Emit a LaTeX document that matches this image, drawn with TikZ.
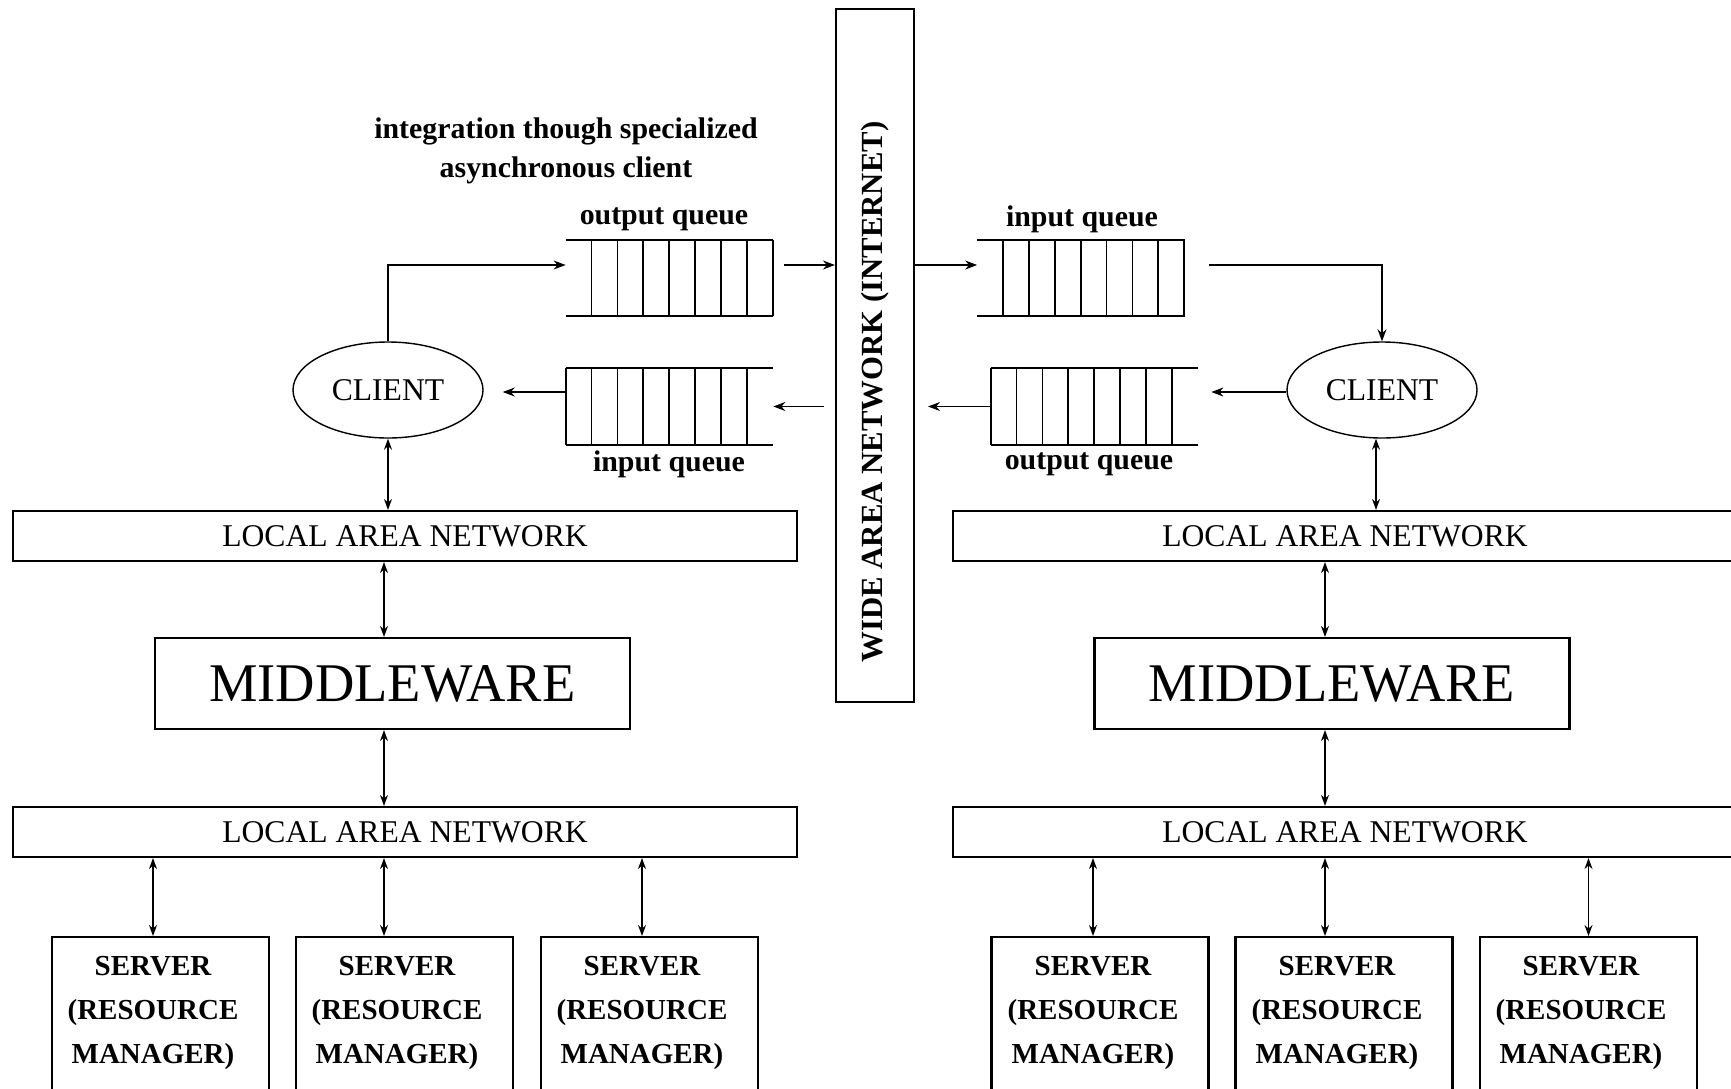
\documentclass[tikz,border=0pt]{standalone}
\usepackage{fontspec}
\setmainfont{Liberation Serif}
\usetikzlibrary{arrows.meta,shapes.geometric}

\tikzset{
  box/.style={draw, line width=1.2pt, inner sep=0pt},
  lan/.style={box, minimum width=156.8mm, minimum height=10mm, font=\fontsize{18}{20}\selectfont},
  mware/.style={box, minimum width=95mm, minimum height=18.2mm, font=\fontsize{31}{34}\selectfont},
  server/.style={box, minimum width=43.4mm, minimum height=36.8mm, anchor=north},
  srvtext/.style={align=center, font=\bfseries\fontsize{16.5}{25}\selectfont},
  client/.style={draw, ellipse, line width=0.8pt, inner sep=0pt, minimum width=38mm, minimum height=19.2mm, font=\fontsize{18}{20}\selectfont},
  qlabel/.style={font=\bfseries\fontsize{17}{22}\selectfont},
  queue/.style={inner sep=0pt, minimum width=41.4mm, minimum height=15.2mm},
  qline/.style={line width=1pt},
  flow/.style={line width=0.8pt, -{Stealth[length=2.4mm,width=1.8mm]}},
  link/.style={line width=0.8pt, {Stealth[length=2.2mm,width=1.6mm]}-{Stealth[length=2.2mm,width=1.6mm]}},
}

% cells of a queue: node, first and last divider
\newcommand\qcells[3]{%
  \draw[qline] (#1.north west) -- (#1.north east) (#1.south west) -- (#1.south east);
  \foreach \k in {#2,...,#3}
    \draw[qline] ([xshift=\k*5.175mm]#1.north west) -- ([xshift=\k*5.175mm]#1.south west);}

\begin{document}
\begin{tikzpicture}[x=0.2mm, y=-0.2mm]
\useasboundingbox (0,0) rectangle (1731,1088);
\clip (0,0) rectangle (1731,1088);

% Wide area network
\node[box, minimum width=15.6mm, minimum height=138.6mm] (wan) at (875,355.5) {};
\node[qlabel, font=\bfseries\fontsize{17.5}{22}\selectfont, rotate=90] (wantext) at (875,392) {WIDE AREA NETWORK (INTERNET)};

\node[qlabel, align=center] (note) at (566,151) {integration though specialized\\asynchronous client};

% Left site
\node[client] (cliL) at (388,390) {CLIENT};
\node[queue] (oqL) at (669.5,278) {};
\node[queue] (iqL) at (669.5,406.5) {};
\qcells{oqL}{1}{8}
\qcells{iqL}{0}{7}
\node[qlabel] (oqLlabel) at (664,219) {output queue};
\node[qlabel] (iqLlabel) at (669,464) {input queue};

\node[lan] (lanL1) at (405,536) {LOCAL AREA NETWORK};
\node[mware] (mwL) at (392.5,683.5) {MIDDLEWARE};
\node[lan] (lanL2) at (405,832) {LOCAL AREA NETWORK};

\node[server] (srvL1) at (160.5,936) {};
\node[server] (srvL2) at (404.5,936) {};
\node[server] (srvL3) at (649.5,936) {};
\node[srvtext] (srvL1t) at (153,1013) {SERVER\\(RESOURCE\\MANAGER)};
\node[srvtext] (srvL2t) at (397,1013) {SERVER\\(RESOURCE\\MANAGER)};
\node[srvtext] (srvL3t) at (642,1013) {SERVER\\(RESOURCE\\MANAGER)};

% Right site
\node[client] (cliR) at (1382,390) {CLIENT};
\node[queue] (iqR) at (1081,278) {};
\node[queue] (oqR) at (1094.5,406.5) {};
\qcells{iqR}{1}{8}
\qcells{oqR}{0}{7}
\node[qlabel] (iqRlabel) at (1082,219) {input queue};
\node[qlabel] (oqRlabel) at (1089,464) {output queue};

\node[lan] (lanR1) at (1345,536) {LOCAL AREA NETWORK};
\node[mware] (mwR) at (1332,683.5) {MIDDLEWARE};
\node[lan] (lanR2) at (1345,832) {LOCAL AREA NETWORK};

\node[server] (srvR1) at (1100,936) {};
\node[server] (srvR2) at (1344,936) {};
\node[server] (srvR3) at (1588.5,936) {};
\node[srvtext] (srvR1t) at (1093,1013) {SERVER\\(RESOURCE\\MANAGER)};
\node[srvtext] (srvR2t) at (1337,1013) {SERVER\\(RESOURCE\\MANAGER)};
\node[srvtext] (srvR3t) at (1581,1013) {SERVER\\(RESOURCE\\MANAGER)};

% Queue traffic
\coordinate (oqLin) at ([yshift=2.6mm]oqL.west);
\coordinate (oqLout) at ([yshift=2.6mm]oqL.east);
\coordinate (iqLout) at ([yshift=2.9mm]iqL.west);
\coordinate (iqRin) at ([yshift=2.6mm]iqR.west);
\coordinate (iqRout) at ([yshift=2.6mm]iqR.east);
\coordinate (oqRin) at ([yshift=2.9mm]oqR.east);

\draw[flow] (cliL.north) |- (oqLin);
\draw[flow, shorten <=2.2mm] (oqLout) -- (oqLout -| wan.west);
\draw[flow, shorten <=2.2mm] (wan.west |- iqL.east) -- (iqL.east);
\draw[flow, shorten >=3.8mm] (iqLout) -- (iqLout -| cliL.east);

\draw[flow] (iqRin -| wan.east) -- (iqRin);
\draw[flow, shorten <=4.8mm] (iqRout) -| (cliR.north);
\draw[flow, shorten >=2.6mm] (oqRin -| cliR.west) -- (oqRin);
\draw[flow, shorten >=2.6mm] (oqR.west) -- (oqR.west -| wan.east);

% Local links
\coordinate (colL) at (384,0);
\coordinate (colR) at (1325,0);
\draw[link] (cliL.south) -- (cliL.south |- lanL1.north);
\draw[link] (lanL1.south -| colL) -- (mwL.north -| colL);
\draw[link] (mwL.south -| colL) -- (lanL2.north -| colL);
\draw[link] (lanL2.south -| srvL1t) -- (srvL1.north -| srvL1t);
\draw[link] (lanL2.south -| colL) -- (srvL2.north -| colL);
\draw[link] (lanL2.south -| srvL3t) -- (srvL3.north -| srvL3t);

\draw[link] ([xshift=-1.2mm]cliR.south) -- ([xshift=-1.2mm]cliR.south |- lanR1.north);
\draw[link] (lanR1.south -| colR) -- (mwR.north -| colR);
\draw[link] (mwR.south -| colR) -- (lanR2.north -| colR);
\draw[link] (lanR2.south -| srvR1t) -- (srvR1.north -| srvR1t);
\draw[link] (lanR2.south -| colR) -- (srvR2.north -| colR);
\draw[link] (lanR2.south -| srvR3) -- (srvR3.north);
\end{tikzpicture}
\end{document}
